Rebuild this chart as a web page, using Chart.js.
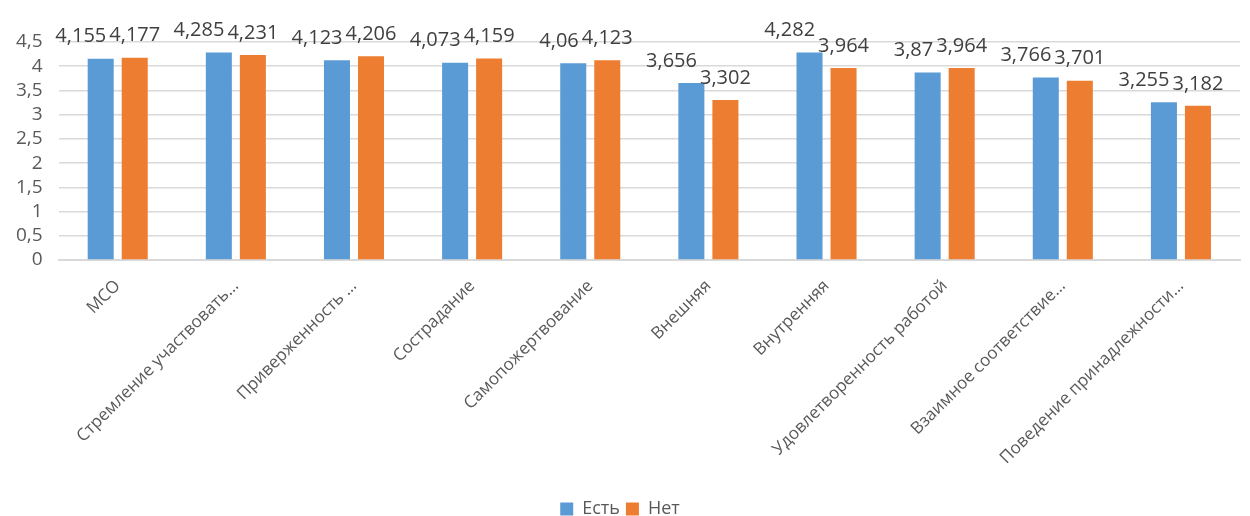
<!DOCTYPE html>
<html lang="ru">
<head>
    <meta charset="UTF-8">
    <title>Есть / Нет</title>
    <script src="https://cdn.jsdelivr.net/npm/chart.js"></script>
    <style>
        html, body { margin: 0; padding: 0; background: #fff; }
        #wrap { width: 1250px; height: 516px; }
    </style>
</head>
<body>
    <div id="wrap"><canvas id="barChart"></canvas></div>

    <script>
        const categories = [
            'МСО',
            'Стремление участвовать…',
            'Приверженность …',
            'Сострадание',
            'Самопожертвование',
            'Внешняя',
            'Внутренняя',
            'Удовлетворенность работой',
            'Взаимное соответствие…',
            'Поведение принадлежности…'
        ];
        const estValues = [4.155, 4.285, 4.123, 4.073, 4.06, 3.656, 4.282, 3.87, 3.766, 3.255];
        const netValues = [4.177, 4.231, 4.206, 4.159, 4.123, 3.302, 3.964, 3.964, 3.701, 3.182];
        const seriesNames = ['Есть', 'Нет'];

        const fontFamily = '"Open Sans", "Noto Sans", sans-serif';
        const fmt = v => String(v).replace('.', ',');

        // value labels above the bars; the left label is pushed aside when the pair collides
        const valueLabels = {
            id: 'valueLabels',
            afterDatasetsDraw(chart) {
                const ctx = chart.ctx;
                const size = 20;
                ctx.save();
                ctx.font = size + 'px ' + fontFamily;
                ctx.fillStyle = '#404040';
                ctx.textAlign = 'center';
                ctx.textBaseline = 'middle';
                const left = chart.getDatasetMeta(0).data;
                const right = chart.getDatasetMeta(1).data;
                const d0 = chart.data.datasets[0].data;
                const d1 = chart.data.datasets[1].data;
                left.forEach((bar, j) => {
                    const t0 = fmt(d0[j]), t1 = fmt(d1[j]);
                    const b1 = right[j];
                    const y0 = bar.y - 22, y1 = b1.y - 22;
                    let x0 = bar.x;
                    const w0 = ctx.measureText(t0).width, w1 = ctx.measureText(t1).width;
                    const overlap = (x0 + w0 / 2) - (b1.x - w1 / 2) + 3;
                    if (overlap > 0 && Math.abs(y0 - y1) < size) x0 -= overlap;
                    ctx.fillText(t0, x0, y0);
                    ctx.fillText(t1, b1.x, y1);
                });
                ctx.restore();
            }
        };

        new Chart(document.getElementById('barChart'), {
            type: 'bar',
            data: {
                labels: categories,
                datasets: [
                    { label: seriesNames[0], data: estValues, backgroundColor: '#5B9BD5' },
                    { label: seriesNames[1], data: netValues, backgroundColor: '#ED7D31' }
                ]
            },
            options: {
                responsive: true,
                maintainAspectRatio: false,
                animation: false,
                categoryPercentage: 0.576,
                barPercentage: 0.765,
                layout: { padding: { top: 42, right: 10, left: 0, bottom: -12 } },
                plugins: {
                    tooltip: { enabled: false },
                    legend: {
                        position: 'bottom',
                        labels: {
                            boxWidth: 13,
                            boxHeight: 13,
                            padding: 6,
                            color: '#595959',
                            font: { family: fontFamily, size: 18 }
                        }
                    }
                },
                scales: {
                    x: {
                        grid: { display: false },
                        border: { color: '#d9d9d9', width: 2 },
                        afterFit: scale => { scale.height = 234; },
                        ticks: {
                            color: '#595959',
                            font: { family: fontFamily, size: 17 },
                            padding: 8,
                            maxRotation: 45,
                            minRotation: 45,
                            autoSkip: false
                        }
                    },
                    y: {
                        min: 0,
                        max: 4.5,
                        border: { display: false },
                        grid: { color: '#d9d9d9', lineWidth: 1.5, drawTicks: false },
                        ticks: {
                            stepSize: 0.5,
                            autoSkip: false,
                            padding: 16,
                            color: '#595959',
                            font: { family: fontFamily, size: 19 },
                            callback: v => fmt(v)
                        }
                    }
                }
            },
            plugins: [valueLabels]
        });
    </script>
</body>
</html>
